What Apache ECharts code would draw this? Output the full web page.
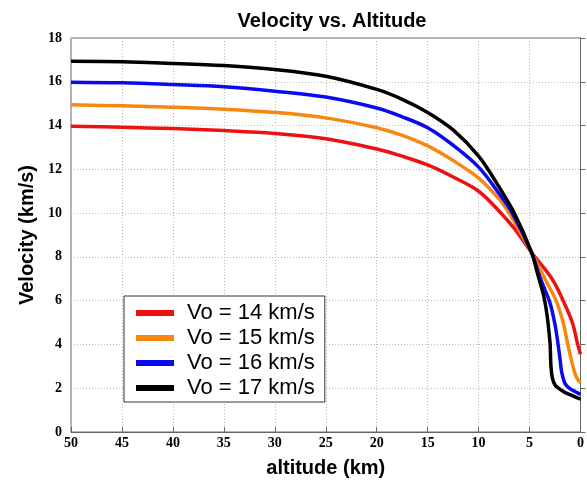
<!DOCTYPE html>
<html>
<head>
<meta charset="utf-8">
<script src="https://cdn.jsdelivr.net/npm/echarts@6/dist/echarts.min.js"></script>
<style>
  html, body { margin: 0; padding: 0; background: #fff; }
  #chart { width: 587px; height: 483px; }
</style>
</head>
<body>
<div id="chart"></div>
<script>
// altitude (km) / velocity (km/s) pairs
const alt14 = [50, 45, 40, 35, 30, 25, 20, 17.5, 15, 12.5, 10, 8, 6.5, 4.8, 2.8, 1.7, 0.8, 0.3, 0]
const vel14 = [13.97, 13.92, 13.86, 13.77, 13.64, 13.4, 12.93, 12.6, 12.2, 11.65, 11.0, 10.1, 9.3, 8.2, 7.0, 6.0, 5.0, 4.05, 3.55]

const alt15 = [50, 45, 40, 35, 30, 25, 20, 17.5, 15, 12.5, 10, 8, 7, 6, 4.8, 3.5, 2.4, 1.7, 1.25, 0.8, 0.4, 0]
const vel15 = [14.95, 14.9, 14.84, 14.75, 14.6, 14.35, 13.9, 13.55, 13.07, 12.4, 11.6, 10.65, 10.0, 9.2, 8.2, 7.0, 6.0, 5.0, 4.0, 3.1, 2.5, 2.25]

const alt16 = [50, 45, 40, 35, 30, 25, 20, 17.5, 15, 12.5, 10, 8, 6.7, 4.8, 4, 3, 2.5, 2.2, 2, 1.85, 1.5, 1, 0.5, 0]
const vel16 = [15.98, 15.95, 15.87, 15.77, 15.57, 15.3, 14.8, 14.4, 13.9, 13.1, 12.1, 10.9, 10.0, 8.2, 7.1, 5.9, 4.9, 4.0, 3.3, 2.75, 2.2, 1.97, 1.84, 1.72]

const alt17 = [50, 45, 40, 35, 30, 25, 20, 17.5, 15, 12.5, 10, 8, 6.5, 4.8, 4.2, 3.6, 3.3, 3.1, 2.98, 2.9, 2.75, 2.5, 2.1, 1.5, 0.9, 0]
const vel17 = [16.94, 16.91, 16.84, 16.74, 16.56, 16.25, 15.65, 15.2, 14.6, 13.8, 12.6, 11.2, 10.0, 8.2, 7.2, 6.2, 5.4, 4.6, 4.0, 3.0, 2.45, 2.15, 1.98, 1.8, 1.68, 1.5]

const seriesNames = ['Vo = 14 km/s', 'Vo = 15 km/s', 'Vo = 16 km/s', 'Vo = 17 km/s']
const seriesColors = ['#ee1111', '#f7870f', '#0a0aee', '#000000']
const altData = [alt14, alt15, alt16, alt17]
const velData = [vel14, vel15, vel16, vel17]

const chart = echarts.init(document.getElementById('chart'))

const tickFont = { color: '#000', fontFamily: 'Liberation Serif', fontWeight: 'bold', fontSize: 14 }
const nameFont = { color: '#000', fontFamily: 'Liberation Sans', fontWeight: 'bold', fontSize: 20 }

const option = {
  backgroundColor: '#fff',
  animation: false,
  title: {
    text: 'Velocity vs. Altitude',
    left: 327,
    textAlign: 'center',
    top: 6,
    textStyle: { color: '#000', fontFamily: 'Liberation Sans', fontWeight: 'bold', fontSize: 20 }
  },
  grid: {
    left: 71,
    right: 4,
    top: 38,
    bottom: 42,
    show: true,
    borderColor: '#666',
    borderWidth: 1
  },
  legend: {
    left: 124,
    top: 296,
    orient: 'vertical',
    data: seriesNames,
    icon: 'rect',
    itemWidth: 38,
    itemHeight: 6,
    itemGap: 3,
    padding: [6, 10, 3, 12],
    backgroundColor: '#fff',
    borderColor: '#333',
    borderWidth: 1,
    textStyle: { color: '#000', fontFamily: 'Liberation Sans', fontSize: 22, padding: [0, 0, 0, 8] }
  },
  xAxis: {
    type: 'value',
    inverse: true,
    min: 0,
    max: 50,
    interval: 5,
    name: 'altitude (km)',
    nameLocation: 'middle',
    nameGap: 26,
    nameTextStyle: nameFont,
    axisLine: { lineStyle: { color: '#666' } },
    axisTick: { inside: true, length: 5, lineStyle: { color: '#666' } },
    axisLabel: Object.assign({ margin: 4 }, tickFont),
    splitLine: { show: true, lineStyle: { color: '#b8b8b8', type: [1, 2] } }
  },
  yAxis: {
    type: 'value',
    min: 0,
    max: 18,
    interval: 2,
    name: 'Velocity (km/s)',
    nameLocation: 'middle',
    nameGap: 34,
    nameTextStyle: nameFont,
    axisLine: { lineStyle: { color: '#666' } },
    axisTick: { inside: true, length: 5, lineStyle: { color: '#666' } },
    axisLabel: Object.assign({ margin: 9 }, tickFont),
    splitLine: { show: true, lineStyle: { color: '#b8b8b8', type: [1, 2] } }
  },
  series: seriesNames.map((name, i) => ({
    name: name,
    type: 'line',
    data: altData[i].map((a, j) => [a, velData[i][j]]),
    smooth: 0.35,
    showSymbol: false,
    symbol: 'none',
    lineStyle: { color: seriesColors[i], width: 3.5 },
    itemStyle: { color: seriesColors[i] }
  }))
}

chart.setOption(option)
</script>
</body>
</html>
